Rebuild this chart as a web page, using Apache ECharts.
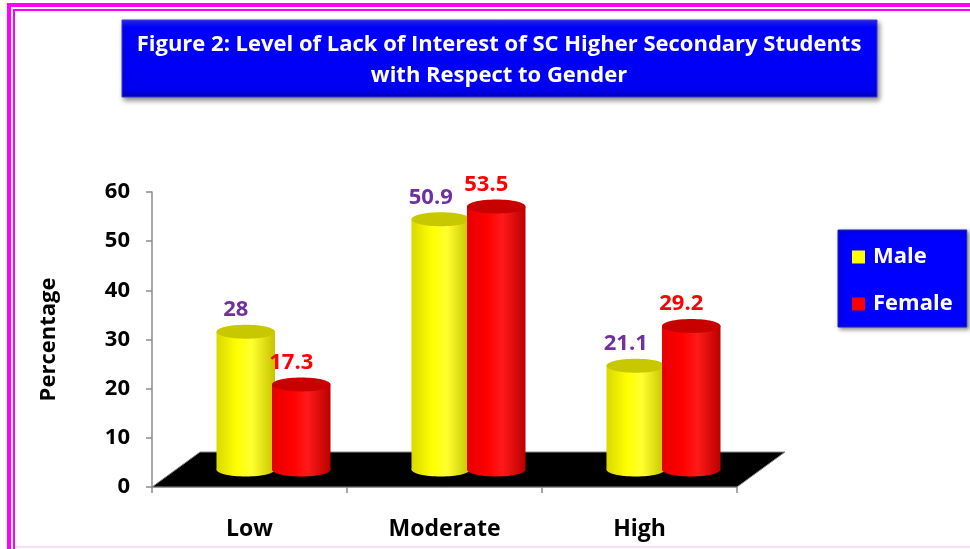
<!DOCTYPE html>
<html>
<head>
<meta charset="utf-8">
<title>Level of Lack of Interest</title>
<script src="https://cdn.jsdelivr.net/npm/echarts@6/dist/echarts.min.js"></script>
<style>
  html, body { margin: 0; padding: 0; background: #fff; }
  #chart { width: 970px; height: 549px; }
</style>
</head>
<body>
<div id="chart"></div>
<script>
// chart data
var categories = ['Low', 'Moderate', 'High'];
var maleValues = [28, 50.9, 21.1];
var femaleValues = [17.3, 53.5, 29.2];
var seriesNames = ['Male', 'Female'];
var yMin = 0, yMax = 60, yStep = 10;

// 3D look of the floor and the cylinders
var DEPTH_X = 48, DEPTH_Y = 35;
var FONT = 'Open Sans';

var palette = {
    Male: { body: ['#d9d900', '#ffff00', '#ffff30', '#c4c400'], top: '#c8c800', label: '#7030a0' },
    Female: { body: ['#e60000', '#ff0000', '#ff1a1a', '#bb0000'], top: '#c80000', label: '#ff0000' }
};

function bodyFill(c) {
    return {
        type: 'linear', x: 0, y: 0, x2: 1, y2: 0,
        colorStops: [
            { offset: 0, color: c[0] },
            { offset: 0.35, color: c[1] },
            { offset: 0.6, color: c[2] },
            { offset: 1, color: c[3] }
        ]
    };
}

// draws one cylinder from the axis value through the grid's own scales
function cylinder(side, name) {
    var pal = palette[name];
    return function (params, api) {
        var cat = api.value(0), val = api.value(1);
        var base = api.coord([cat, 0]);
        var top = api.coord([cat, val]);
        var band = api.size([1, 0])[0];
        var w = band * 0.3;
        var cx = base[0] + DEPTH_X / 2 + side * (w / 2 - 1.5);
        var by = base[1] - DEPTH_Y / 2;
        var ty = top[1] - DEPTH_Y / 2;
        var ry = 7;
        return {
            type: 'group',
            children: [
                { type: 'ellipse', shape: { cx: cx, cy: by, rx: w / 2, ry: ry }, style: { fill: bodyFill(pal.body) } },
                { type: 'rect', shape: { x: cx - w / 2, y: ty, width: w, height: by - ty }, style: { fill: bodyFill(pal.body) } },
                { type: 'ellipse', shape: { cx: cx, cy: ty, rx: w / 2, ry: ry }, style: { fill: pal.top } },
                {
                    type: 'text', x: cx - 10, y: ty - ry - 4,
                    style: {
                        text: String(val), fill: pal.label, align: 'center', verticalAlign: 'bottom',
                        font: 'bold 22px "' + FONT + '"'
                    }
                }
            ]
        };
    };
}

function floorItem(params, api) {
    var cs = params.coordSys;
    var x0 = cs.x, x1 = cs.x + cs.width, y0 = cs.y + cs.height;
    return {
        type: 'polygon',
        shape: { points: [[x0, y0], [x1, y0], [x1 + DEPTH_X, y0 - DEPTH_Y], [x0 + DEPTH_X, y0 - DEPTH_Y]] },
        style: { fill: '#000', stroke: '#8a8a8a', lineWidth: 1 }
    };
}

var chart = echarts.init(document.getElementById('chart'), null, { renderer: 'canvas' });

chart.setOption({
    animation: false,
    backgroundColor: '#fff',
    title: {
        text: 'Figure 2: Level of Lack of Interest of SC Higher Secondary Students\nwith Respect to Gender',
        left: 499, top: 29, textAlign: 'center', padding: 0, z: 100,
        textStyle: { color: '#fff', fontFamily: FONT, fontWeight: 'bold', fontSize: 22, lineHeight: 31 }
    },
    legend: {
        data: seriesNames,
        orient: 'vertical', left: 838, top: 230,
        padding: [16, 14, 12, 14], itemGap: 25,
        itemWidth: 13, itemHeight: 13, icon: 'rect',
        backgroundColor: '#0000ff', borderColor: '#2323b0', borderWidth: 1,
        shadowBlur: 4, shadowColor: 'rgba(0,0,0,0.45)', shadowOffsetX: 2, shadowOffsetY: 2,
        textStyle: { color: '#fff', fontFamily: FONT, fontWeight: 'bold', fontSize: 22, padding: [0, 0, 0, 3] }
    },
    graphic: [
        // magenta frame
        { type: 'rect', shape: { x: 7, y: 3, width: 4, height: 546 }, style: { fill: '#ff00ff' } },
        { type: 'rect', shape: { x: 7, y: 3, width: 963, height: 4 }, style: { fill: '#ff00ff' } },
        { type: 'rect', shape: { x: 13, y: 9, width: 2, height: 540 }, style: { fill: '#ff00ff' } },
        { type: 'rect', shape: { x: 13, y: 9, width: 957, height: 2 }, style: { fill: '#ff00ff' } },
        { type: 'rect', shape: { x: 15, y: 546, width: 955, height: 2 }, style: { fill: '#fbdcfb' } },
        // title box
        {
            type: 'rect', z: 1,
            shape: { x: 122, y: 20, width: 755, height: 77 },
            style: {
                fill: {
                    type: 'linear', x: 0, y: 0, x2: 0, y2: 1,
                    colorStops: [{ offset: 0, color: '#2a2aff' }, { offset: 0.1, color: '#0000ff' }, { offset: 0.9, color: '#0000f0' }, { offset: 1, color: '#0000b8' }]
                },
                stroke: '#3a3ad0', lineWidth: 1,
                shadowBlur: 5, shadowColor: 'rgba(0,0,0,0.45)', shadowOffsetX: 2, shadowOffsetY: 3
            }
        }
    ],
    grid: { left: 152, right: 233, top: 192, bottom: 62, containLabel: false },
    xAxis: {
        type: 'category',
        data: categories,
        boundaryGap: true,
        axisLine: { lineStyle: { color: '#8c8c8c', width: 1.5 } },
        axisTick: { show: true, length: 6, alignWithLabel: false, lineStyle: { color: '#8c8c8c', width: 1.5 } },
        axisLabel: { margin: 31, color: '#000', fontFamily: FONT, fontWeight: 'bold', fontSize: 23 }
    },
    yAxis: {
        type: 'value',
        min: yMin, max: yMax, interval: yStep,
        name: 'Percentage', nameLocation: 'middle', nameRotate: 90, nameGap: 92,
        nameTextStyle: { color: '#000', fontFamily: FONT, fontWeight: 'bold', fontSize: 22 },
        axisLine: { show: true, lineStyle: { color: '#8c8c8c', width: 1.5 } },
        axisTick: { show: true, length: 6, lineStyle: { color: '#8c8c8c', width: 1.5 } },
        splitLine: { show: false },
        axisLabel: { margin: 22, color: '#000', fontFamily: FONT, fontWeight: 'bold', fontSize: 22 }
    },
    series: [
        {
            type: 'custom', name: 'floor', silent: true, z: 1,
            renderItem: floorItem, data: [[0, 0]]
        },
        {
            type: 'custom', name: 'Male', z: 2,
            itemStyle: { color: '#ffff00' },
            renderItem: cylinder(-1, 'Male'),
            data: maleValues.map(function (v, i) { return [i, v]; })
        },
        {
            type: 'custom', name: 'Female', z: 3,
            itemStyle: { color: '#ff0000' },
            renderItem: cylinder(1, 'Female'),
            data: femaleValues.map(function (v, i) { return [i, v]; })
        }
    ]
});

window.addEventListener('resize', function () { chart.resize(); });
</script>
</body>
</html>
